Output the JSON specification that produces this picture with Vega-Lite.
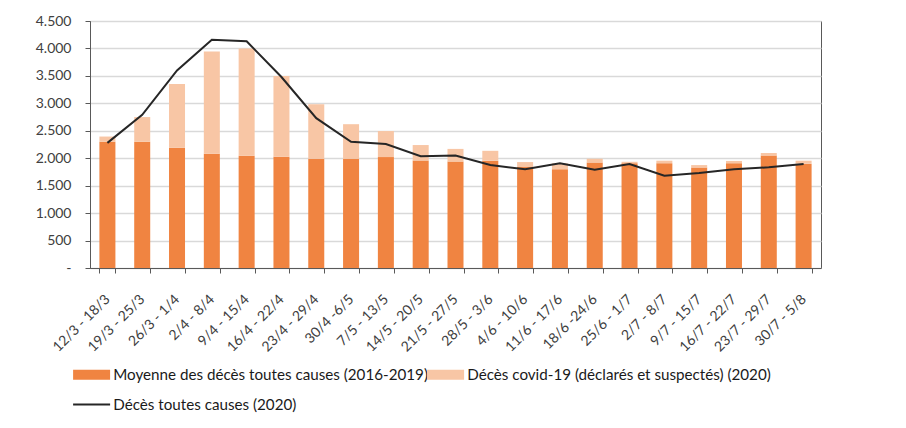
{
  "$schema": "https://vega.github.io/schema/vega-lite/v6.json",
  "autosize": {"type": "none"},
  "padding": {"left": 90, "top": 21, "right": 85, "bottom": 160},
  "width": 731,
  "height": 247,
  "background": "#ffffff",
  "data": {"values": [
    {"semaine": "12/3 - 18/3", "moyenne": 2300, "covid": 95, "total": 2280},
    {"semaine": "19/3 - 25/3", "moyenne": 2300, "covid": 450, "total": 2790},
    {"semaine": "26/3 - 1/4", "moyenne": 2190, "covid": 1160, "total": 3600},
    {"semaine": "2/4 - 8/4", "moyenne": 2080, "covid": 1865, "total": 4160},
    {"semaine": "9/4 - 15/4", "moyenne": 2045, "covid": 1955, "total": 4130},
    {"semaine": "16/4 - 22/4", "moyenne": 2025, "covid": 1475, "total": 3480},
    {"semaine": "23/4 - 29/4", "moyenne": 1990, "covid": 995, "total": 2730},
    {"semaine": "30/4 -6/5", "moyenne": 1990, "covid": 630, "total": 2300},
    {"semaine": "7/5 - 13/5", "moyenne": 2020, "covid": 475, "total": 2260},
    {"semaine": "14/5 - 20/5", "moyenne": 1960, "covid": 280, "total": 2035},
    {"semaine": "21/5 - 27/5", "moyenne": 1940, "covid": 230, "total": 2050},
    {"semaine": "28/5 - 3/6", "moyenne": 1955, "covid": 180, "total": 1875},
    {"semaine": "4/6 - 10/6", "moyenne": 1840, "covid": 90, "total": 1800},
    {"semaine": "11/6 - 17/6", "moyenne": 1800, "covid": 105, "total": 1910},
    {"semaine": "18/6 -24/6", "moyenne": 1920, "covid": 70, "total": 1790},
    {"semaine": "25/6 - 1/7", "moyenne": 1910, "covid": 25, "total": 1895},
    {"semaine": "2/7 - 8/7", "moyenne": 1910, "covid": 45, "total": 1680},
    {"semaine": "9/7 - 15/7", "moyenne": 1830, "covid": 45, "total": 1730},
    {"semaine": "16/7 - 22/7", "moyenne": 1910, "covid": 40, "total": 1800},
    {"semaine": "23/7 - 29/7", "moyenne": 2050, "covid": 45, "total": 1835},
    {"semaine": "30/7 - 5/8", "moyenne": 1900, "covid": 55, "total": 1895}
  ]},
  "encoding": {
    "x": {
      "field": "semaine", "type": "nominal", "sort": null,
      "scale": {"paddingInner": 0.54, "paddingOuter": 0.27},
      "axis": {
        "title": null, "labelAngle": -45, "labelAlign": "right", "labelBaseline": "middle",
        "labelPadding": 24, "tickBand": "extent", "tickSize": 5, "labelOverlap": false,
        "labelFont": "Lato", "labelFontSize": 14, "labelColor": "#404040",
        "domainColor": "#595959", "tickColor": "#595959", "labelLimit": 200
      }
    },
    "y": {
      "field": "valeur", "type": "quantitative",
      "scale": {"domain": [0, 4500], "nice": false},
      "axis": {
        "title": null, "values": [0, 500, 1000, 1500, 2000, 2500, 3000, 3500, 4000, 4500],
        "labelOverlap": false, "labelBound": false, "labelFlush": false,
        "labelExpr": "datum.value === 0 ? '-' : replace(format(datum.value, ','), ',', '.')",
        "grid": true, "gridColor": "#d9d9d9", "gridWidth": 1.3,
        "tickSize": 5, "tickColor": "#595959", "domainColor": "#595959",
        "labelPadding": 14, "labelFont": "Lato", "labelFontSize": 14, "labelColor": "#404040",
        "encode": {"labels": {"update": {"dx": {"signal": "datum.value === 0 ? -9 : 0"}}}}
      }
    }
  },
  "layer": [
    {
      "transform": [{"fold": ["moyenne", "covid"], "as": ["serie", "valeur"]}],
      "mark": {"type": "bar"},
      "encoding": {
        "y": {
          "field": "valeur", "type": "quantitative", "stack": "zero"
        },
        "color": {
          "field": "serie", "type": "nominal",
          "scale": {"domain": ["moyenne", "covid", "total"], "range": ["#F08441", "#F8C6A5", "#262626"]},
          "legend": {
            "orient": "none", "legendX": -16, "legendY": 346, "columns": 2, "direction": "horizontal", "title": null,
            "padding": 0, "columnPadding": -18, "rowPadding": 14, "labelOffset": 14, "symbolOffset": 10,
            "symbolSize": 1369, "symbolType": "M-1,-0.27H1V0.27H-1Z",
            "labelFont": "Lato", "labelFontSize": 15.2, "labelColor": "#1a1a1a", "labelLimit": 400,
            "labelExpr": "datum.value === 'moyenne' ? 'Moyenne des décès toutes causes (2016-2019)' : datum.value === 'covid' ? 'Décès covid-19 (déclarés et suspectés) (2020)' : 'Décès toutes causes (2020)'",
            "encode": {
              "symbols": {
                "update": {
                  "shape": {"signal": "datum.value === 'total' ? 'stroke' : 'M-1,-0.27H1V0.27H-1Z'"},
                  "fill": {"signal": "datum.value === 'moyenne' ? '#F08441' : datum.value === 'covid' ? '#F8C6A5' : 'transparent'"},
                  "stroke": {"signal": "datum.value === 'total' ? '#262626' : 'transparent'"},
                  "strokeWidth": {"signal": "datum.value === 'total' ? 2 : 0"},
                  "opacity": {"value": 1},
                  "fillOpacity": {"value": 1}
                }
              }
            }
          }
        },
        "order": {"field": "serie", "sort": "descending"}
      }
    },
    {
      "transform": [{"fold": ["total"], "as": ["serie", "valeur"]}],
      "mark": {"type": "line", "strokeWidth": 2},
      "encoding": {
        "color": {"field": "serie", "type": "nominal"}
      }
    }
  ],
  "config": {
    "view": {"stroke": "#595959", "strokeWidth": 1},
    "axis": {"labelFont": "Lato"},
    "axisY": {"labelOverlap": false}
  }
}
